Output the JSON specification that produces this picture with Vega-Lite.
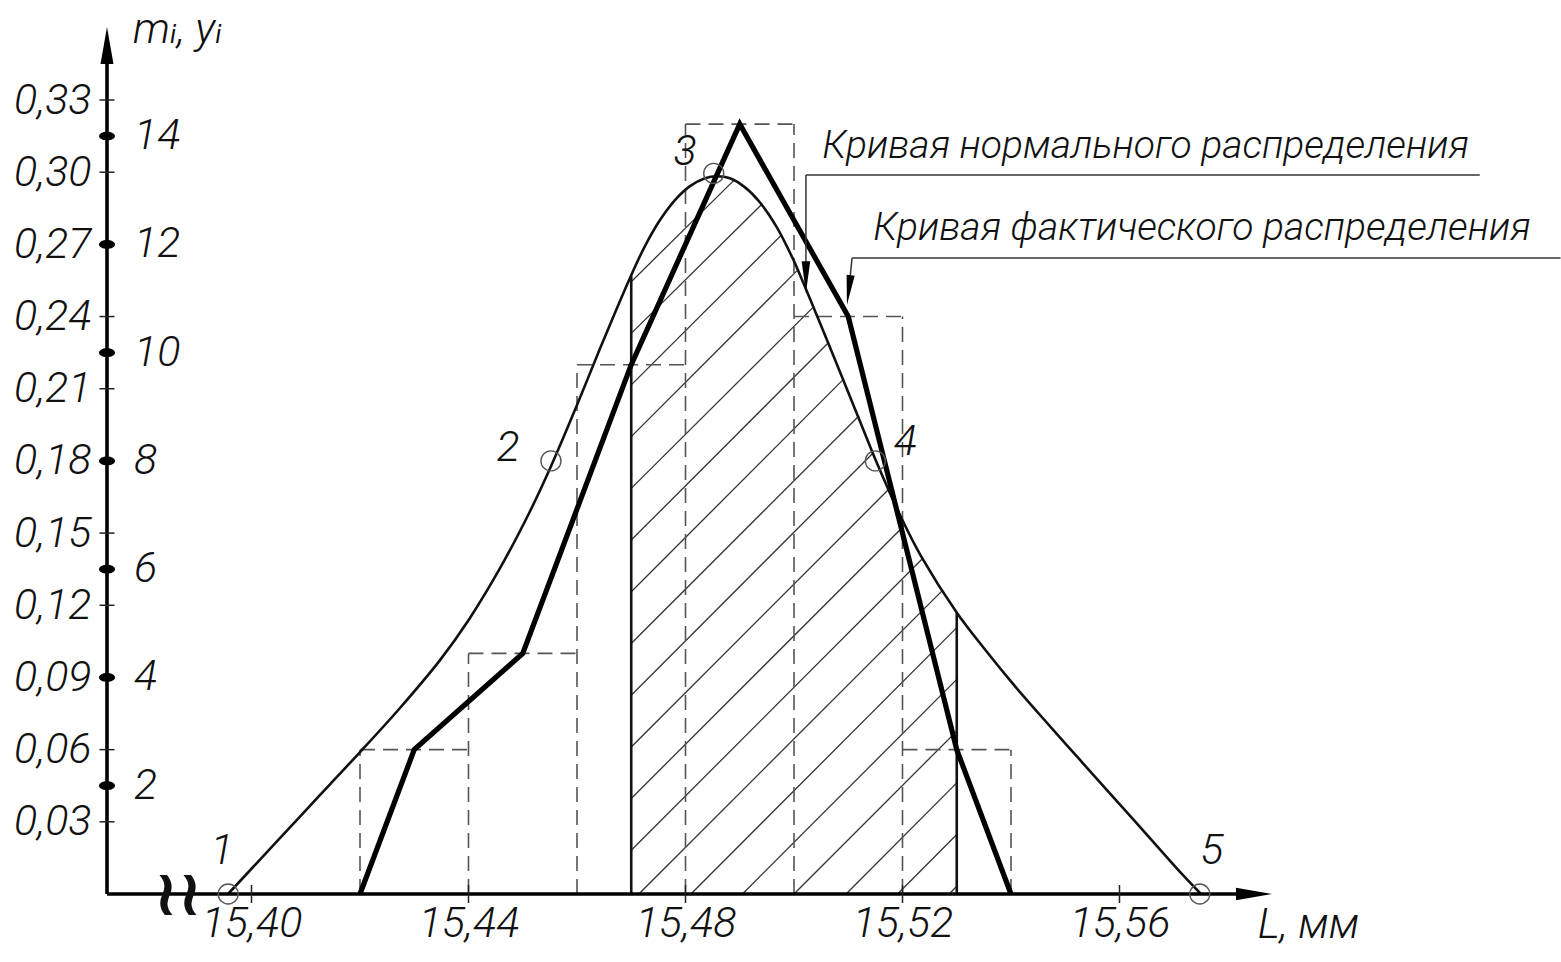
{
  "$schema": "https://vega.github.io/schema/vega-lite/v6.json",
  "width": 1168,
  "height": 867,
  "autosize": {"type": "none"},
  "padding": {"left": 107, "top": 27, "right": 286, "bottom": 68},
  "background": "white",
  "config": {
    "locale": {"number": {"decimal": ",", "thousands": " ", "grouping": [3], "currency": ["", ""]}},
    "view": {"stroke": null},
    "axis": {
      "labelFont": "Roboto, 'DejaVu Sans Condensed', sans-serif",
      "labelFontStyle": "italic",
      "labelFontWeight": 300,
      "labelFontSize": 43,
      "labelColor": "#111",
      "grid": false,
      "domain": false,
      "ticks": false,
      "labelOverlap": false,
      "labelBound": false,
      "labelFlush": false
    },
    "text": {
      "font": "Roboto, 'DejaVu Sans Condensed', sans-serif",
      "fontStyle": "italic",
      "fontWeight": 300,
      "fontSize": 43,
      "color": "#111"
    }
  },
  "datasets": {
    "curve": [
      {"L": 15.39567, "p": 0}, {"L": 15.40157, "p": 0.0143}, {"L": 15.40894, "p": 0.0322},
      {"L": 15.41447, "p": 0.0456}, {"L": 15.42018, "p": 0.0594}, {"L": 15.42737, "p": 0.0773},
      {"L": 15.43475, "p": 0.0972}, {"L": 15.44009, "p": 0.1141}, {"L": 15.44581, "p": 0.1354},
      {"L": 15.45134, "p": 0.1591}, {"L": 15.45521, "p": 0.1778}, {"L": 15.46, "p": 0.2032},
      {"L": 15.46424, "p": 0.2267}, {"L": 15.46995, "p": 0.257}, {"L": 15.47253, "p": 0.2693},
      {"L": 15.4753, "p": 0.2801}, {"L": 15.47806, "p": 0.2884}, {"L": 15.48083, "p": 0.2942},
      {"L": 15.48359, "p": 0.2975}, {"L": 15.48581, "p": 0.2983}, {"L": 15.4882, "p": 0.2975},
      {"L": 15.49097, "p": 0.2937}, {"L": 15.49373, "p": 0.2874}, {"L": 15.49687, "p": 0.277},
      {"L": 15.49982, "p": 0.2639}, {"L": 15.50111, "p": 0.2573}, {"L": 15.50406, "p": 0.2413},
      {"L": 15.50719, "p": 0.2241}, {"L": 15.51124, "p": 0.2016}, {"L": 15.51401, "p": 0.1861},
      {"L": 15.51493, "p": 0.181}, {"L": 15.51954, "p": 0.1575}, {"L": 15.52341, "p": 0.1404},
      {"L": 15.53005, "p": 0.1168}, {"L": 15.53521, "p": 0.1016}, {"L": 15.54037, "p": 0.0873},
      {"L": 15.54535, "p": 0.0744}, {"L": 15.55272, "p": 0.0557}, {"L": 15.56009, "p": 0.0371},
      {"L": 15.56507, "p": 0.0246}, {"L": 15.57115, "p": 0.0092}, {"L": 15.57502, "p": 0}
    ],
    "hist": [
      {"a": 15.42, "b": 15.44, "m": 0.06}, {"a": 15.44, "b": 15.46, "m": 0.10},
      {"a": 15.46, "b": 15.48, "m": 0.22}, {"a": 15.48, "b": 15.50, "m": 0.32},
      {"a": 15.50, "b": 15.52, "m": 0.24}, {"a": 15.52, "b": 15.54, "m": 0.06}
    ],
    "edges": [
      {"L": 15.42, "lo": 0, "top": 0.06}, {"L": 15.44, "lo": 0, "top": 0.10},
      {"L": 15.46, "lo": 0, "top": 0.22}, {"L": 15.48, "lo": 0, "top": 0.32},
      {"L": 15.50, "lo": 0, "top": 0.32}, {"L": 15.52, "lo": 0, "top": 0.24},
      {"L": 15.54, "lo": 0, "top": 0.06}
    ],
    "poly": [
      {"L": 15.42, "p": 0}, {"L": 15.43, "p": 0.06}, {"L": 15.45, "p": 0.10},
      {"L": 15.47, "p": 0.22}, {"L": 15.49, "p": 0.32}, {"L": 15.51, "p": 0.24},
      {"L": 15.53, "p": 0.06}, {"L": 15.54, "p": 0}
    ],
    "bounds": [{"L": 15.47, "lo": 0, "top": 0.257}, {"L": 15.53, "lo": 0, "top": 0.1168}],
    "hatch": [
      {"x1": 15.47, "y1": 0.2545, "x2": 15.48887, "y2": 0.2965},
      {"x1": 15.47, "y1": 0.2330, "x2": 15.49412, "y2": 0.2868},
      {"x1": 15.47, "y1": 0.2116, "x2": 15.49764, "y2": 0.2738},
      {"x1": 15.47, "y1": 0.1901, "x2": 15.50052, "y2": 0.2590},
      {"x1": 15.47, "y1": 0.1686, "x2": 15.50341, "y2": 0.2436},
      {"x1": 15.47, "y1": 0.1471, "x2": 15.50638, "y2": 0.2292},
      {"x1": 15.47, "y1": 0.1256, "x2": 15.50924, "y2": 0.2142},
      {"x1": 15.47, "y1": 0.1041, "x2": 15.5120, "y2": 0.1988},
      {"x1": 15.47, "y1": 0.0826, "x2": 15.51458, "y2": 0.1833},
      {"x1": 15.47, "y1": 0.0611, "x2": 15.51746, "y2": 0.1682},
      {"x1": 15.47, "y1": 0.0397, "x2": 15.52043, "y2": 0.1534},
      {"x1": 15.47, "y1": 0.0182, "x2": 15.52358, "y2": 0.1391},
      {"x1": 15.4714, "y1": 0, "x2": 15.52733, "y2": 0.1261},
      {"x1": 15.4810, "y1": 0, "x2": 15.53, "y2": 0.1107},
      {"x1": 15.4905, "y1": 0, "x2": 15.53, "y2": 0.0892},
      {"x1": 15.5000, "y1": 0, "x2": 15.53, "y2": 0.0677},
      {"x1": 15.5096, "y1": 0, "x2": 15.53, "y2": 0.0462},
      {"x1": 15.5191, "y1": 0, "x2": 15.53, "y2": 0.0247},
      {"x1": 15.5286, "y1": 0, "x2": 15.53, "y2": 0.0032}
    ],
    "axes": [
      {"x1": 15.373364, "y1": 0, "x2": 15.5815, "y2": 0},
      {"x1": 15.373364, "y1": 0, "x2": 15.373364, "y2": 0.345}
    ],
    "yticks": [
      {"L": 15.373364, "p": 0.03}, {"L": 15.373364, "p": 0.06}, {"L": 15.373364, "p": 0.09},
      {"L": 15.373364, "p": 0.12}, {"L": 15.373364, "p": 0.15}, {"L": 15.373364, "p": 0.18},
      {"L": 15.373364, "p": 0.21}, {"L": 15.373364, "p": 0.24}, {"L": 15.373364, "p": 0.27},
      {"L": 15.373364, "p": 0.30}, {"L": 15.373364, "p": 0.33}
    ],
    "xticks": [
      {"L": 15.40, "p": 0}, {"L": 15.44, "p": 0}, {"L": 15.48, "p": 0},
      {"L": 15.52, "p": 0}, {"L": 15.56, "p": 0}
    ],
    "counts": [
      {"n": "2", "L": 15.373364, "p": 0.045}, {"n": "4", "L": 15.373364, "p": 0.09},
      {"n": "6", "L": 15.373364, "p": 0.135}, {"n": "8", "L": 15.373364, "p": 0.18},
      {"n": "10", "L": 15.373364, "p": 0.225}, {"n": "12", "L": 15.373364, "p": 0.27},
      {"n": "14", "L": 15.373364, "p": 0.315}
    ],
    "points": [
      {"k": "1", "L": 15.3957, "p": 0, "lx": 15.39456, "ly": 0.0179},
      {"k": "2", "L": 15.4552, "p": 0.18, "lx": 15.4473, "ly": 0.1854},
      {"k": "3", "L": 15.4852, "p": 0.2995, "lx": 15.4799, "ly": 0.3084},
      {"k": "4", "L": 15.515, "p": 0.18, "lx": 15.5205, "ly": 0.1879},
      {"k": "5", "L": 15.5748, "p": 0, "lx": 15.577, "ly": 0.0179}
    ],
    "leaders": [
      {"x1": 15.5022, "y1": 0.2988, "x2": 15.6264, "y2": 0.2988},
      {"x1": 15.5022, "y1": 0.2988, "x2": 15.5022, "y2": 0.2565},
      {"x1": 15.5107, "y1": 0.2643, "x2": 15.6413, "y2": 0.2643},
      {"x1": 15.5107, "y1": 0.2643, "x2": 15.5101, "y2": 0.2510}
    ],
    "notes": [
      {"t": "Кривая нормального распределения", "L": 15.5052, "p": 0.3059},
      {"t": "Кривая фактического распределения", "L": 15.5146, "p": 0.2718}
    ]
  },
  "layer": [
    {
      "data": {"name": "hatch"},
      "mark": {"type": "rule", "stroke": "#333", "strokeWidth": 1.3},
      "encoding": {
        "x": {"field": "x1", "type": "quantitative", "scale": {"domain": [15.373364, 15.588664], "nice": false, "zero": false},
              "axis": {"values": [15.40, 15.44, 15.48, 15.52, 15.56], "format": ".2f", "labelPadding": 8, "labelBaseline": "top", "title": null}},
        "y": {"field": "y1", "type": "quantitative", "scale": {"domain": [0, 0.36035], "nice": false, "zero": false},
              "axis": {"values": [0.03, 0.06, 0.09, 0.12, 0.15, 0.18, 0.21, 0.24, 0.27, 0.30, 0.33], "format": ".2f", "labelPadding": 16, "title": null}},
        "x2": {"field": "x2"},
        "y2": {"field": "y2"}
      }
    },
    {
      "data": {"name": "edges"},
      "mark": {"type": "rule", "stroke": "#555", "strokeWidth": 1.6, "strokeDash": [15, 8]},
      "encoding": {
        "x": {"field": "L", "type": "quantitative", "scale": {"domain": [15.373364, 15.588664], "nice": false, "zero": false},
              "axis": {"values": [15.40, 15.44, 15.48, 15.52, 15.56], "format": ".2f", "labelPadding": 8, "labelBaseline": "top", "title": null}},
        "y": {"field": "lo", "type": "quantitative", "scale": {"domain": [0, 0.36035], "nice": false, "zero": false},
              "axis": {"values": [0.03, 0.06, 0.09, 0.12, 0.15, 0.18, 0.21, 0.24, 0.27, 0.30, 0.33], "format": ".2f", "labelPadding": 16, "title": null}},
        "y2": {"field": "top"}
      }
    },
    {
      "data": {"name": "hist"},
      "mark": {"type": "rule", "stroke": "#555", "strokeWidth": 1.6, "strokeDash": [15, 8]},
      "encoding": {
        "x": {"field": "a", "type": "quantitative", "scale": {"domain": [15.373364, 15.588664], "nice": false, "zero": false},
              "axis": {"values": [15.40, 15.44, 15.48, 15.52, 15.56], "format": ".2f", "labelPadding": 8, "labelBaseline": "top", "title": null}},
        "x2": {"field": "b"},
        "y": {"field": "m", "type": "quantitative", "scale": {"domain": [0, 0.36035], "nice": false, "zero": false},
              "axis": {"values": [0.03, 0.06, 0.09, 0.12, 0.15, 0.18, 0.21, 0.24, 0.27, 0.30, 0.33], "format": ".2f", "labelPadding": 16, "title": null}}
      }
    },
    {
      "data": {"name": "bounds"},
      "mark": {"type": "rule", "stroke": "#111", "strokeWidth": 2.6},
      "encoding": {
        "x": {"field": "L", "type": "quantitative", "scale": {"domain": [15.373364, 15.588664], "nice": false, "zero": false},
              "axis": {"values": [15.40, 15.44, 15.48, 15.52, 15.56], "format": ".2f", "labelPadding": 8, "labelBaseline": "top", "title": null}},
        "y": {"field": "lo", "type": "quantitative", "scale": {"domain": [0, 0.36035], "nice": false, "zero": false},
              "axis": {"values": [0.03, 0.06, 0.09, 0.12, 0.15, 0.18, 0.21, 0.24, 0.27, 0.30, 0.33], "format": ".2f", "labelPadding": 16, "title": null}},
        "y2": {"field": "top"}
      }
    },
    {
      "data": {"name": "curve"},
      "mark": {"type": "line", "stroke": "#111", "strokeWidth": 2.6, "interpolate": "catmull-rom"},
      "encoding": {
        "x": {"field": "L", "type": "quantitative", "scale": {"domain": [15.373364, 15.588664], "nice": false, "zero": false},
              "axis": {"values": [15.40, 15.44, 15.48, 15.52, 15.56], "format": ".2f", "labelPadding": 8, "labelBaseline": "top", "title": null}},
        "y": {"field": "p", "type": "quantitative", "scale": {"domain": [0, 0.36035], "nice": false, "zero": false},
              "axis": {"values": [0.03, 0.06, 0.09, 0.12, 0.15, 0.18, 0.21, 0.24, 0.27, 0.30, 0.33], "format": ".2f", "labelPadding": 16, "title": null}}
      }
    },
    {
      "data": {"name": "poly"},
      "mark": {"type": "line", "stroke": "#000", "strokeWidth": 5.2, "strokeJoin": "miter", "strokeCap": "butt"},
      "encoding": {
        "x": {"field": "L", "type": "quantitative", "scale": {"domain": [15.373364, 15.588664], "nice": false, "zero": false},
              "axis": {"values": [15.40, 15.44, 15.48, 15.52, 15.56], "format": ".2f", "labelPadding": 8, "labelBaseline": "top", "title": null}},
        "y": {"field": "p", "type": "quantitative", "scale": {"domain": [0, 0.36035], "nice": false, "zero": false},
              "axis": {"values": [0.03, 0.06, 0.09, 0.12, 0.15, 0.18, 0.21, 0.24, 0.27, 0.30, 0.33], "format": ".2f", "labelPadding": 16, "title": null}}
      }
    },
    {
      "data": {"name": "axes"},
      "mark": {"type": "rule", "stroke": "#000", "strokeWidth": 3.6},
      "encoding": {
        "x": {"field": "x1", "type": "quantitative", "scale": {"domain": [15.373364, 15.588664], "nice": false, "zero": false},
              "axis": {"values": [15.40, 15.44, 15.48, 15.52, 15.56], "format": ".2f", "labelPadding": 8, "labelBaseline": "top", "title": null}},
        "y": {"field": "y1", "type": "quantitative", "scale": {"domain": [0, 0.36035], "nice": false, "zero": false},
              "axis": {"values": [0.03, 0.06, 0.09, 0.12, 0.15, 0.18, 0.21, 0.24, 0.27, 0.30, 0.33], "format": ".2f", "labelPadding": 16, "title": null}},
        "x2": {"field": "x2"},
        "y2": {"field": "y2"}
      }
    },
    {
      "data": {"values": [{"L": 15.373364, "p": 0.35266}]},
      "mark": {"type": "point", "shape": "M0,-1L0.35,1L-0.35,1Z", "size": 1369, "filled": true, "fill": "#000", "opacity": 1, "strokeWidth": 0},
      "encoding": {
        "x": {"field": "L", "type": "quantitative", "scale": {"domain": [15.373364, 15.588664], "nice": false, "zero": false},
              "axis": {"values": [15.40, 15.44, 15.48, 15.52, 15.56], "format": ".2f", "labelPadding": 8, "labelBaseline": "top", "title": null}},
        "y": {"field": "p", "type": "quantitative", "scale": {"domain": [0, 0.36035], "nice": false, "zero": false},
              "axis": {"values": [0.03, 0.06, 0.09, 0.12, 0.15, 0.18, 0.21, 0.24, 0.27, 0.30, 0.33], "format": ".2f", "labelPadding": 16, "title": null}}
      }
    },
    {
      "data": {"values": [{"L": 15.58479, "p": 0}]},
      "mark": {"type": "point", "shape": "M1,0L-1,-0.35L-1,0.35Z", "size": 1296, "filled": true, "fill": "#000", "opacity": 1, "strokeWidth": 0},
      "encoding": {
        "x": {"field": "L", "type": "quantitative", "scale": {"domain": [15.373364, 15.588664], "nice": false, "zero": false},
              "axis": {"values": [15.40, 15.44, 15.48, 15.52, 15.56], "format": ".2f", "labelPadding": 8, "labelBaseline": "top", "title": null}},
        "y": {"field": "p", "type": "quantitative", "scale": {"domain": [0, 0.36035], "nice": false, "zero": false},
              "axis": {"values": [0.03, 0.06, 0.09, 0.12, 0.15, 0.18, 0.21, 0.24, 0.27, 0.30, 0.33], "format": ".2f", "labelPadding": 16, "title": null}}
      }
    },
    {
      "data": {"name": "yticks"},
      "mark": {"type": "tick", "orient": "horizontal", "size": 15, "thickness": 1.5, "color": "#222", "opacity": 1},
      "encoding": {
        "x": {"field": "L", "type": "quantitative", "scale": {"domain": [15.373364, 15.588664], "nice": false, "zero": false},
              "axis": {"values": [15.40, 15.44, 15.48, 15.52, 15.56], "format": ".2f", "labelPadding": 8, "labelBaseline": "top", "title": null}},
        "y": {"field": "p", "type": "quantitative", "scale": {"domain": [0, 0.36035], "nice": false, "zero": false},
              "axis": {"values": [0.03, 0.06, 0.09, 0.12, 0.15, 0.18, 0.21, 0.24, 0.27, 0.30, 0.33], "format": ".2f", "labelPadding": 16, "title": null}}
      }
    },
    {
      "data": {"name": "xticks"},
      "mark": {"type": "tick", "orient": "vertical", "size": 18, "thickness": 1.5, "color": "#222", "opacity": 1},
      "encoding": {
        "x": {"field": "L", "type": "quantitative", "scale": {"domain": [15.373364, 15.588664], "nice": false, "zero": false},
              "axis": {"values": [15.40, 15.44, 15.48, 15.52, 15.56], "format": ".2f", "labelPadding": 8, "labelBaseline": "top", "title": null}},
        "y": {"field": "p", "type": "quantitative", "scale": {"domain": [0, 0.36035], "nice": false, "zero": false},
              "axis": {"values": [0.03, 0.06, 0.09, 0.12, 0.15, 0.18, 0.21, 0.24, 0.27, 0.30, 0.33], "format": ".2f", "labelPadding": 16, "title": null}}
      }
    },
    {
      "data": {"name": "counts"},
      "mark": {"type": "point", "shape": "M-1,0A1,0.55,0,1,0,1,0A1,0.55,0,1,0,-1,0Z", "size": 256, "filled": true, "fill": "#000", "opacity": 1, "strokeWidth": 0},
      "encoding": {
        "x": {"field": "L", "type": "quantitative", "scale": {"domain": [15.373364, 15.588664], "nice": false, "zero": false},
              "axis": {"values": [15.40, 15.44, 15.48, 15.52, 15.56], "format": ".2f", "labelPadding": 8, "labelBaseline": "top", "title": null}},
        "y": {"field": "p", "type": "quantitative", "scale": {"domain": [0, 0.36035], "nice": false, "zero": false},
              "axis": {"values": [0.03, 0.06, 0.09, 0.12, 0.15, 0.18, 0.21, 0.24, 0.27, 0.30, 0.33], "format": ".2f", "labelPadding": 16, "title": null}}
      }
    },
    {
      "data": {"name": "counts"},
      "mark": {"type": "text", "align": "left", "baseline": "middle", "dx": 27},
      "encoding": {
        "x": {"field": "L", "type": "quantitative", "scale": {"domain": [15.373364, 15.588664], "nice": false, "zero": false},
              "axis": {"values": [15.40, 15.44, 15.48, 15.52, 15.56], "format": ".2f", "labelPadding": 8, "labelBaseline": "top", "title": null}},
        "y": {"field": "p", "type": "quantitative", "scale": {"domain": [0, 0.36035], "nice": false, "zero": false},
              "axis": {"values": [0.03, 0.06, 0.09, 0.12, 0.15, 0.18, 0.21, 0.24, 0.27, 0.30, 0.33], "format": ".2f", "labelPadding": 16, "title": null}},
        "text": {"field": "n"}
      }
    },
    {
      "data": {"name": "points"},
      "mark": {"type": "point", "shape": "circle", "size": 400, "filled": false, "stroke": "#555", "strokeWidth": 1.4, "opacity": 1},
      "encoding": {
        "x": {"field": "L", "type": "quantitative", "scale": {"domain": [15.373364, 15.588664], "nice": false, "zero": false},
              "axis": {"values": [15.40, 15.44, 15.48, 15.52, 15.56], "format": ".2f", "labelPadding": 8, "labelBaseline": "top", "title": null}},
        "y": {"field": "p", "type": "quantitative", "scale": {"domain": [0, 0.36035], "nice": false, "zero": false},
              "axis": {"values": [0.03, 0.06, 0.09, 0.12, 0.15, 0.18, 0.21, 0.24, 0.27, 0.30, 0.33], "format": ".2f", "labelPadding": 16, "title": null}}
      }
    },
    {
      "data": {"name": "points"},
      "mark": {"type": "text", "align": "center", "baseline": "middle"},
      "encoding": {
        "x": {"field": "lx", "type": "quantitative", "scale": {"domain": [15.373364, 15.588664], "nice": false, "zero": false},
              "axis": {"values": [15.40, 15.44, 15.48, 15.52, 15.56], "format": ".2f", "labelPadding": 8, "labelBaseline": "top", "title": null}},
        "y": {"field": "ly", "type": "quantitative", "scale": {"domain": [0, 0.36035], "nice": false, "zero": false},
              "axis": {"values": [0.03, 0.06, 0.09, 0.12, 0.15, 0.18, 0.21, 0.24, 0.27, 0.30, 0.33], "format": ".2f", "labelPadding": 16, "title": null}},
        "text": {"field": "k"}
      }
    },
    {
      "data": {"name": "leaders"},
      "mark": {"type": "rule", "stroke": "#333", "strokeWidth": 1.5},
      "encoding": {
        "x": {"field": "x1", "type": "quantitative", "scale": {"domain": [15.373364, 15.588664], "nice": false, "zero": false},
              "axis": {"values": [15.40, 15.44, 15.48, 15.52, 15.56], "format": ".2f", "labelPadding": 8, "labelBaseline": "top", "title": null}},
        "y": {"field": "y1", "type": "quantitative", "scale": {"domain": [0, 0.36035], "nice": false, "zero": false},
              "axis": {"values": [0.03, 0.06, 0.09, 0.12, 0.15, 0.18, 0.21, 0.24, 0.27, 0.30, 0.33], "format": ".2f", "labelPadding": 16, "title": null}},
        "x2": {"field": "x2"},
        "y2": {"field": "y2"}
      }
    },
    {
      "data": {"values": [{"L": 15.5022, "p": 0.2564}]},
      "mark": {"type": "point", "shape": "M0,1L-0.27,-1L0.27,-1Z", "size": 1000, "filled": true, "fill": "#000", "opacity": 1, "strokeWidth": 0},
      "encoding": {
        "x": {"field": "L", "type": "quantitative", "scale": {"domain": [15.373364, 15.588664], "nice": false, "zero": false},
              "axis": {"values": [15.40, 15.44, 15.48, 15.52, 15.56], "format": ".2f", "labelPadding": 8, "labelBaseline": "top", "title": null}},
        "y": {"field": "p", "type": "quantitative", "scale": {"domain": [0, 0.36035], "nice": false, "zero": false},
              "axis": {"values": [0.03, 0.06, 0.09, 0.12, 0.15, 0.18, 0.21, 0.24, 0.27, 0.30, 0.33], "format": ".2f", "labelPadding": 16, "title": null}}
      }
    },
    {
      "data": {"values": [{"L": 15.5101, "p": 0.2510}]},
      "mark": {"type": "point", "shape": "M0,1L-0.27,-1L0.27,-1Z", "size": 900, "angle": 7, "filled": true, "fill": "#000", "opacity": 1, "strokeWidth": 0},
      "encoding": {
        "x": {"field": "L", "type": "quantitative", "scale": {"domain": [15.373364, 15.588664], "nice": false, "zero": false},
              "axis": {"values": [15.40, 15.44, 15.48, 15.52, 15.56], "format": ".2f", "labelPadding": 8, "labelBaseline": "top", "title": null}},
        "y": {"field": "p", "type": "quantitative", "scale": {"domain": [0, 0.36035], "nice": false, "zero": false},
              "axis": {"values": [0.03, 0.06, 0.09, 0.12, 0.15, 0.18, 0.21, 0.24, 0.27, 0.30, 0.33], "format": ".2f", "labelPadding": 16, "title": null}}
      }
    },
    {
      "data": {"name": "notes"},
      "mark": {"type": "text", "align": "left", "baseline": "alphabetic", "fontSize": 39},
      "encoding": {
        "x": {"field": "L", "type": "quantitative", "scale": {"domain": [15.373364, 15.588664], "nice": false, "zero": false},
              "axis": {"values": [15.40, 15.44, 15.48, 15.52, 15.56], "format": ".2f", "labelPadding": 8, "labelBaseline": "top", "title": null}},
        "y": {"field": "p", "type": "quantitative", "scale": {"domain": [0, 0.36035], "nice": false, "zero": false},
              "axis": {"values": [0.03, 0.06, 0.09, 0.12, 0.15, 0.18, 0.21, 0.24, 0.27, 0.30, 0.33], "format": ".2f", "labelPadding": 16, "title": null}},
        "text": {"field": "t"}
      }
    },
    {
      "data": {"values": [{"t": "mᵢ, yᵢ", "L": 15.373364, "p": 0.359}]},
      "mark": {"type": "text", "align": "left", "baseline": "middle", "dx": 26},
      "encoding": {
        "x": {"field": "L", "type": "quantitative", "scale": {"domain": [15.373364, 15.588664], "nice": false, "zero": false},
              "axis": {"values": [15.40, 15.44, 15.48, 15.52, 15.56], "format": ".2f", "labelPadding": 8, "labelBaseline": "top", "title": null}},
        "y": {"field": "p", "type": "quantitative", "scale": {"domain": [0, 0.36035], "nice": false, "zero": false},
              "axis": {"values": [0.03, 0.06, 0.09, 0.12, 0.15, 0.18, 0.21, 0.24, 0.27, 0.30, 0.33], "format": ".2f", "labelPadding": 16, "title": null}},
        "text": {"field": "t"}
      }
    },
    {
      "data": {"values": [{"t": "L,  мм", "L": 15.5855, "p": 0}]},
      "mark": {"type": "text", "align": "left", "baseline": "top", "dy": 10},
      "encoding": {
        "x": {"field": "L", "type": "quantitative", "scale": {"domain": [15.373364, 15.588664], "nice": false, "zero": false},
              "axis": {"values": [15.40, 15.44, 15.48, 15.52, 15.56], "format": ".2f", "labelPadding": 8, "labelBaseline": "top", "title": null}},
        "y": {"field": "p", "type": "quantitative", "scale": {"domain": [0, 0.36035], "nice": false, "zero": false},
              "axis": {"values": [0.03, 0.06, 0.09, 0.12, 0.15, 0.18, 0.21, 0.24, 0.27, 0.30, 0.33], "format": ".2f", "labelPadding": 16, "title": null}},
        "text": {"field": "t"}
      }
    },
    {
      "data": {"values": [{"t": "≀≀", "L": 15.3868, "p": 0}]},
      "mark": {"type": "text", "align": "center", "baseline": "middle", "font": "DejaVu Sans", "fontStyle": "normal", "fontWeight": "bold", "fontSize": 64, "dx": -2, "dy": 2},
      "encoding": {
        "x": {"field": "L", "type": "quantitative", "scale": {"domain": [15.373364, 15.588664], "nice": false, "zero": false},
              "axis": {"values": [15.40, 15.44, 15.48, 15.52, 15.56], "format": ".2f", "labelPadding": 8, "labelBaseline": "top", "title": null}},
        "y": {"field": "p", "type": "quantitative", "scale": {"domain": [0, 0.36035], "nice": false, "zero": false},
              "axis": {"values": [0.03, 0.06, 0.09, 0.12, 0.15, 0.18, 0.21, 0.24, 0.27, 0.30, 0.33], "format": ".2f", "labelPadding": 16, "title": null}},
        "text": {"field": "t"}
      }
    }
  ]
}
